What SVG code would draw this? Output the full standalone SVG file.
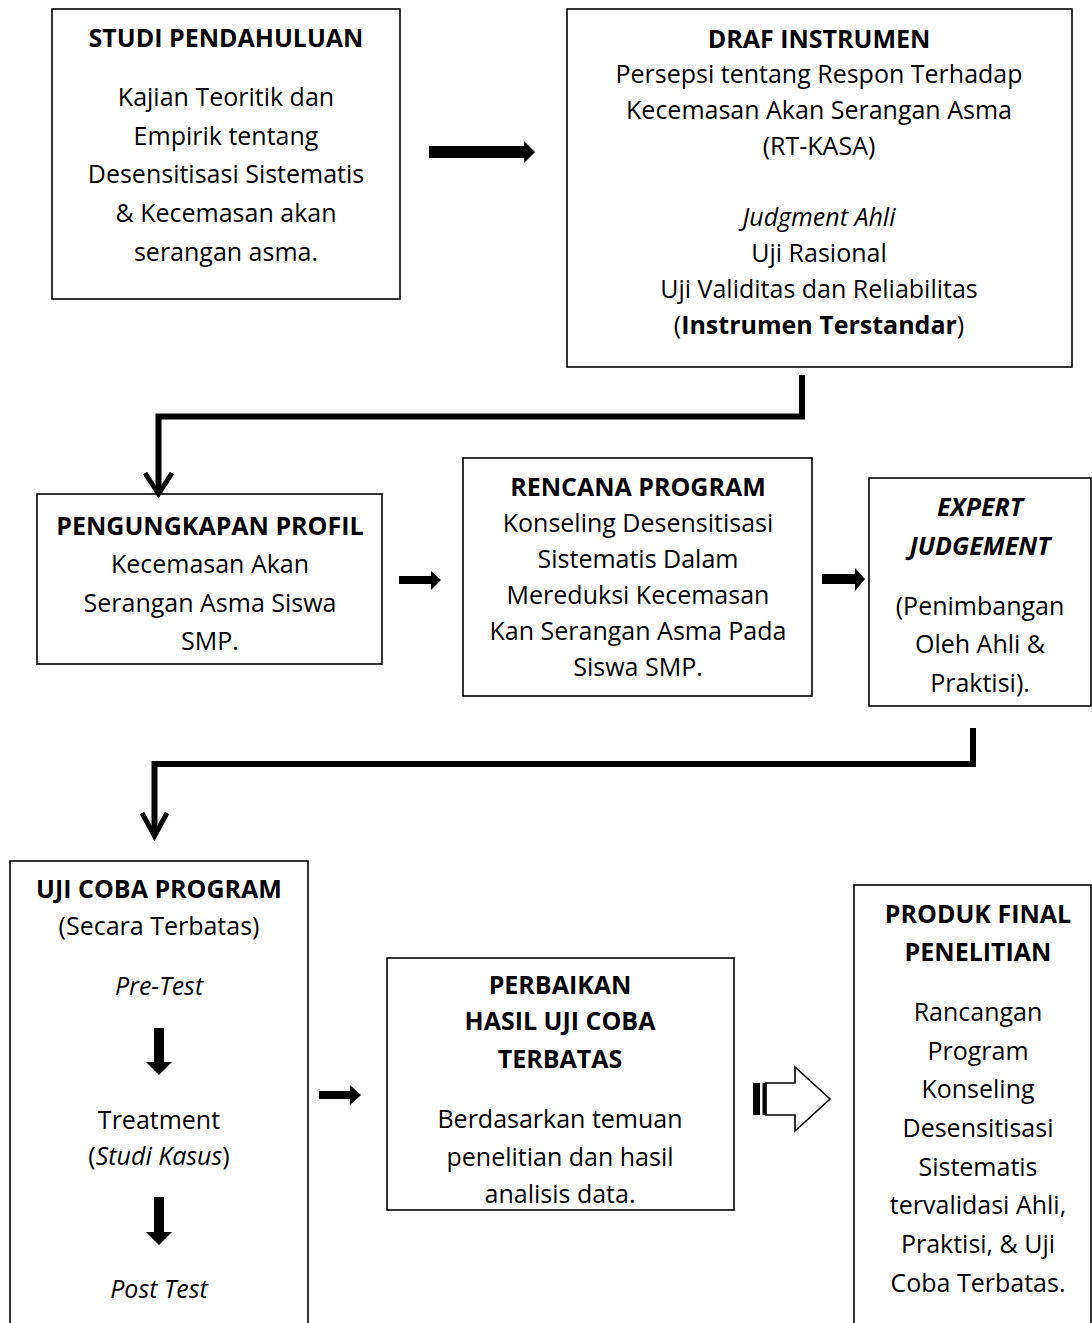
<svg xmlns="http://www.w3.org/2000/svg" width="1092" height="1323" viewBox="0 0 1092 1323">
<style>
.box{fill:#fff;stroke:#000;stroke-width:1.6}
text{font-family:"Open Sans","Liberation Sans",sans-serif;font-size:25px;fill:#000;text-anchor:middle}
.b{font-weight:bold}
.i{font-style:italic}
.ln{fill:none;stroke:#000;stroke-width:6;stroke-linejoin:miter}
.ah{fill:none;stroke:#000;stroke-width:5;stroke-linejoin:miter;stroke-linecap:butt}
.fa{fill:#000}
</style>
<rect width="1092" height="1323" fill="#fff"/>
<g id="studi-pendahuluan">
<rect class="box" x="52" y="9" width="348" height="290"/>
<text class="b" x="226" y="47">STUDI PENDAHULUAN</text>
<text x="226" y="106">Kajian Teoritik dan</text>
<text x="226" y="145">Empirik tentang</text>
<text x="226" y="183">Desensitisasi Sistematis</text>
<text x="226" y="222">&amp; Kecemasan akan</text>
<text x="226" y="261">serangan asma.</text>
</g>
<g id="draf-instrumen">
<rect class="box" x="567" y="9" width="505" height="358"/>
<text class="b" x="819" y="48">DRAF INSTRUMEN</text>
<text x="819" y="83">Persepsi tentang Respon Terhadap</text>
<text x="819" y="119">Kecemasan Akan Serangan Asma</text>
<text x="819" y="155">(RT-KASA)</text>
<text class="i" x="819" y="226">Judgment Ahli</text>
<text x="819" y="262">Uji Rasional</text>
<text x="819" y="298">Uji Validitas dan Reliabilitas</text>
<text x="819" y="334">(<tspan class="b">Instrumen Terstandar</tspan>)</text>
</g>
<g id="pengungkapan-profil">
<rect class="box" x="37" y="494" width="345" height="170"/>
<text class="b" x="210" y="535">PENGUNGKAPAN PROFIL</text>
<text x="210" y="573">Kecemasan Akan</text>
<text x="210" y="612">Serangan Asma Siswa</text>
<text x="210" y="650">SMP.</text>
</g>
<g id="rencana-program">
<rect class="box" x="463" y="458" width="349" height="238"/>
<text class="b" x="638" y="496">RENCANA PROGRAM</text>
<text x="638" y="532">Konseling Desensitisasi</text>
<text x="638" y="568">Sistematis Dalam</text>
<text x="638" y="604">Mereduksi Kecemasan</text>
<text x="638" y="640">Kan Serangan Asma Pada</text>
<text x="638" y="676">Siswa SMP.</text>
</g>
<g id="expert-judgement">
<rect class="box" x="869" y="478" width="222" height="228"/>
<text class="b i" x="980" y="516">EXPERT</text>
<text class="b i" x="980" y="555">JUDGEMENT</text>
<text x="980" y="615">(Penimbangan</text>
<text x="980" y="653">Oleh Ahli &amp;</text>
<text x="980" y="692">Praktisi).</text>
</g>
<g id="uji-coba-program">
<rect class="box" x="10" y="861" width="298" height="480"/>
<text class="b" x="159" y="898">UJI COBA PROGRAM</text>
<text x="159" y="935">(Secara Terbatas)</text>
<text class="i" x="159" y="995">Pre-Test</text>
<polygon class="fa" points="154,1028 164,1028 164,1062 172,1062 159,1075 146,1062 154,1062"/>
<text x="159" y="1129">Treatment</text>
<text x="159" y="1165">(<tspan class="i">Studi Kasus</tspan>)</text>
<polygon class="fa" points="154,1197 164,1197 164,1232 172,1232 159,1245 146,1232 154,1232"/>
<text class="i" x="159" y="1298">Post Test</text>
</g>
<g id="perbaikan">
<rect class="box" x="387" y="958" width="347" height="252"/>
<text class="b" x="560" y="994">PERBAIKAN</text>
<text class="b" x="560" y="1030">HASIL UJI COBA</text>
<text class="b" x="560" y="1068">TERBATAS</text>
<text x="560" y="1128">Berdasarkan temuan</text>
<text x="560" y="1166">penelitian dan hasil</text>
<text x="560" y="1203">analisis data.</text>
</g>
<g id="produk-final">
<rect class="box" x="854" y="885" width="237" height="460"/>
<text class="b" x="978" y="923">PRODUK FINAL</text>
<text class="b" x="978" y="961">PENELITIAN</text>
<text x="978" y="1021">Rancangan</text>
<text x="978" y="1060">Program</text>
<text x="978" y="1098">Konseling</text>
<text x="978" y="1137">Desensitisasi</text>
<text x="978" y="1176">Sistematis</text>
<text x="978" y="1214">tervalidasi Ahli,</text>
<text x="978" y="1253">Praktisi, &amp; Uji</text>
<text x="978" y="1292">Coba Terbatas.</text>
</g>
<g id="connectors">
<polygon class="fa" points="429,146 524,146 524,141 535,152 524,163 524,158 429,158"/>
<path class="ln" d="M802,375 V416.5 H158.5 V493"/>
<polyline class="ah" points="145,473 158.5,494 172,473"/>
<polygon class="fa" points="399,576 431,576 431,571 441,580 431,590 431,584 399,584"/>
<polygon class="fa" points="822,574 855,574 855,568 865,579 855,591 855,584 822,584"/>
<path class="ln" d="M973,728 V764 H154.5 V834"/>
<polyline class="ah" points="142,813 154.5,836 167,813"/>
<polygon class="fa" points="319,1091 350,1091 350,1085 361,1095 350,1105 350,1099 319,1099"/>
<g id="hollow-arrow">
<rect x="753" y="1083" width="7" height="32" fill="#000"/>
<rect x="762.5" y="1083" width="3.5" height="32" fill="#000"/>
<polygon points="766,1083 795,1083 795,1067 830,1099 795,1131 795,1115 766,1115" fill="#fff" stroke="#000" stroke-width="1.6"/>
</g>
</g>
</svg>
